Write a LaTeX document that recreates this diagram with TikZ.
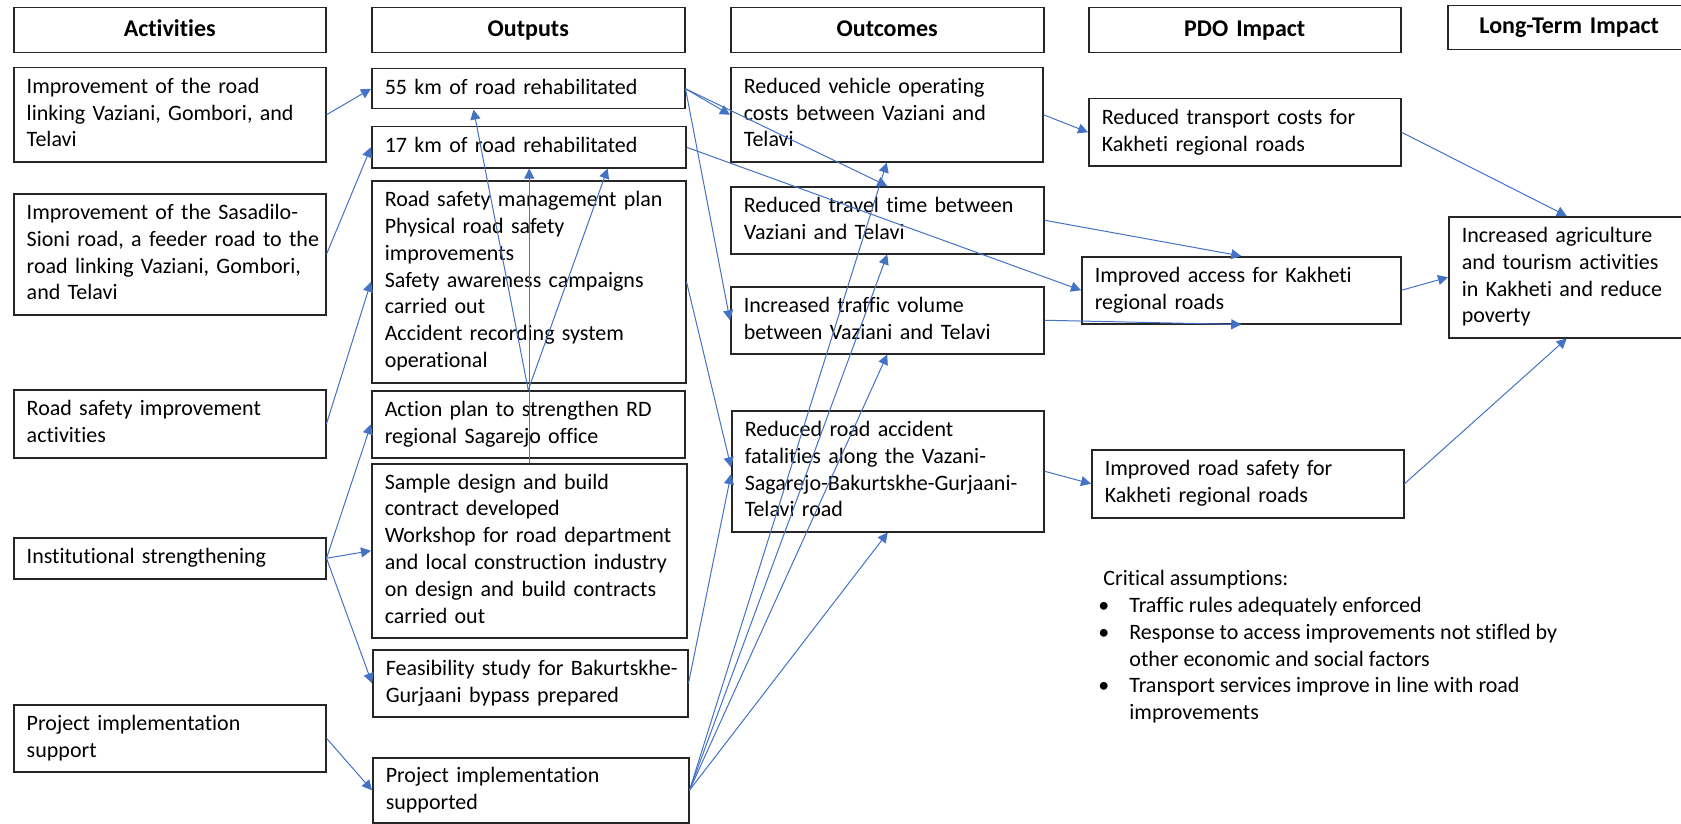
\documentclass[tikz,border=0pt]{standalone}
\usepackage{fontspec}
\setmainfont{Carlito}[Ligatures=NoCommon]
\usetikzlibrary{arrows.meta,calc}
\definecolor{arrblue}{HTML}{4472C4}
\newcommand\lfbox[7][box]{%
  \pgfmathsetlengthmacro\bxw{(#5-#3)*0.5pt-13pt}%
  \pgfmathsetlengthmacro\bxh{(#6-#4)*0.5pt}%
  \node[#1, text width=\bxw, minimum height=\bxh] (#2) at (#3,#4)
    {\begin{tabular}{@{}l@{}}#7\end{tabular}};}
\begin{document}
\begin{tikzpicture}[x=0.5pt,y=-0.5pt,
  box/.style={draw=black!85, line width=0.75pt, inner xsep=6.5pt, inner ysep=0pt,
    align=left, anchor=north west, font=\fontsize{11}{13.4}\selectfont},
  hdr/.style={box, align=center, font=\fontsize{12}{14.6}\selectfont\bfseries},
  arr/.style={draw=arrblue, line width=0.5pt, -{Triangle[length=5pt,width=5pt]}}]
\path[use as bounding box, clip] (0,0) rectangle (1681,824);
\fill[white] (0,0) rectangle (1681,824);
% headers
\lfbox[hdr]{hAct}{13}{7}{325}{52}{Activities}
\lfbox[hdr]{hOut}{371}{7}{684}{52}{Outputs}
\lfbox[hdr]{hOc}{730}{7}{1043}{52}{Outcomes}
\lfbox[hdr]{hPDO}{1088}{7}{1400}{52}{PDO Impact}
\lfbox[hdr]{hLT}{1447}{5}{1690}{49}{Long-Term Impact}
% activities
\lfbox{a1}{13}{67}{325}{161}{Improvement of the road\\linking Vaziani, Gombori, and\\Telavi}
\lfbox{a2}{13}{193}{325}{314}{Improvement of the Sasadilo-\\Sioni road, a feeder road to the\\road linking Vaziani, Gombori,\\and Telavi}
\lfbox{a3}{13}{389}{325}{457}{Road safety improvement\\activities}
\lfbox{a4}{13}{537}{325}{578}{Institutional strengthening}
\lfbox{a5}{13}{704}{325}{771}{Project implementation\\support}
% outputs
\lfbox{o1}{371}{68}{684}{108}{55 km of road rehabilitated}
\lfbox{o2}{371}{126}{685}{167}{17 km of road rehabilitated}
\lfbox{o3}{371}{180}{685}{382}{Road safety management plan\\Physical road safety\\improvements\\Safety awareness campaigns\\carried out\\Accident recording system\\operational}
\lfbox{o4}{371}{390}{684}{457}{Action plan to strengthen RD\\regional Sagarejo office}
\lfbox{o5}{371}{463}{686}{637}{Sample design and build\\contract developed\\Workshop for road department\\and local construction industry\\on design and build contracts\\carried out}
\lfbox{o6}{372}{649}{687}{716}{Feasibility study for Bakurtskhe-\\Gurjaani bypass prepared}
\lfbox{o7}{372}{757}{688}{822}{Project implementation\\supported}
% outcomes
\lfbox{c1}{730}{67}{1042}{161}{Reduced vehicle operating\\costs between Vaziani and\\Telavi}
\lfbox{c2}{730}{186}{1043}{253}{Reduced travel time between\\Vaziani and Telavi}
\lfbox{c3}{730}{286}{1043}{353}{Increased traffic volume\\between Vaziani and Telavi}
\lfbox{c4}{731}{410}{1043}{531}{Reduced road accident\\fatalities along the Vazani-\\Sagarejo-Bakurtskhe-Gurjaani-\\Telavi road}
% PDO impact
\lfbox{p1}{1088}{98}{1400}{165}{Reduced transport costs for\\Kakheti regional roads}
\lfbox{p2}{1081}{256}{1400}{323}{Improved access for Kakheti\\regional roads}
\lfbox{p3}{1091}{449}{1403}{517}{Improved road safety for\\Kakheti regional roads}
% long-term impact
\lfbox{lt}{1448}{216}{1684}{337}{Increased agriculture\\and tourism activities\\in Kakheti and reduce\\poverty}
% critical assumptions
\node[anchor=north west, inner sep=0pt, align=left, font=\fontsize{11}{13.4}\selectfont] (crit) at (1103,570)
 {Critical assumptions:\\
  \hspace*{-2.5pt}\makebox[15.5pt][l]{\textbullet}Traffic rules adequately enforced\\
  \hspace*{-2.5pt}\makebox[15.5pt][l]{\textbullet}Response to access improvements not stifled by\\
  \hspace*{13pt}other economic and social factors\\
  \hspace*{-2.5pt}\makebox[15.5pt][l]{\textbullet}Transport services improve in line with road\\
  \hspace*{13pt}improvements};
% connectors: activities -> outputs
\draw[arr] (a1.east) -- (o1.west);
\draw[arr] (a2.east) -- (o2.west);
\draw[arr] (a3.east) -- (o3.west);
\draw[arr] (a4.east) -- (o4.west);
\draw[arr] (a4.east) -- (o5.west);
\draw[arr] (a4.east) -- (o6.west);
\draw[arr] (a5.east) -- (o7.west);
% outputs -> outputs
\draw[arr] (o4.north) -- ($(o1.south west)!0.326!(o1.south east)$);
\draw[arr] (o4.north) -- ($(o2.south west)!0.75!(o2.south east)$);
\draw[arr] (o5.north) -- (o5.north |- o2.south);
% outputs -> outcomes / PDO
\draw[arr] (o1.east) -- (c1.west);
\draw[arr] (o1.east) -- (c2.north);
\draw[arr] (o1.east) -- (c3.west);
\draw[arr] (o2.east) -- (p2.west);
\draw[arr] (o3.east) -- ($(c4.west)+(0,-4)$);
\draw[arr] (o6.east) -- ($(c4.west)+(0,3)$);
\draw[arr] (o7.east) -- (c1.south);
\draw[arr] (o7.east) -- (c2.south);
\draw[arr] (o7.east) -- (c3.south);
\draw[arr] (o7.east) -- (c4.south);
% outcomes -> PDO
\draw[arr] (c1.east) -- (p1.west);
\draw[arr] (c2.east) -- (p2.north);
\draw[arr] (c3.east) -- (p2.south);
\draw[arr] (c4.east) -- (p3.west);
% PDO -> long-term
\draw[arr] (p1.east) -- (lt.north);
\draw[arr] (p2.east) -- (lt.west);
\draw[arr] (p3.east) -- (lt.south);
\end{tikzpicture}
\end{document}
